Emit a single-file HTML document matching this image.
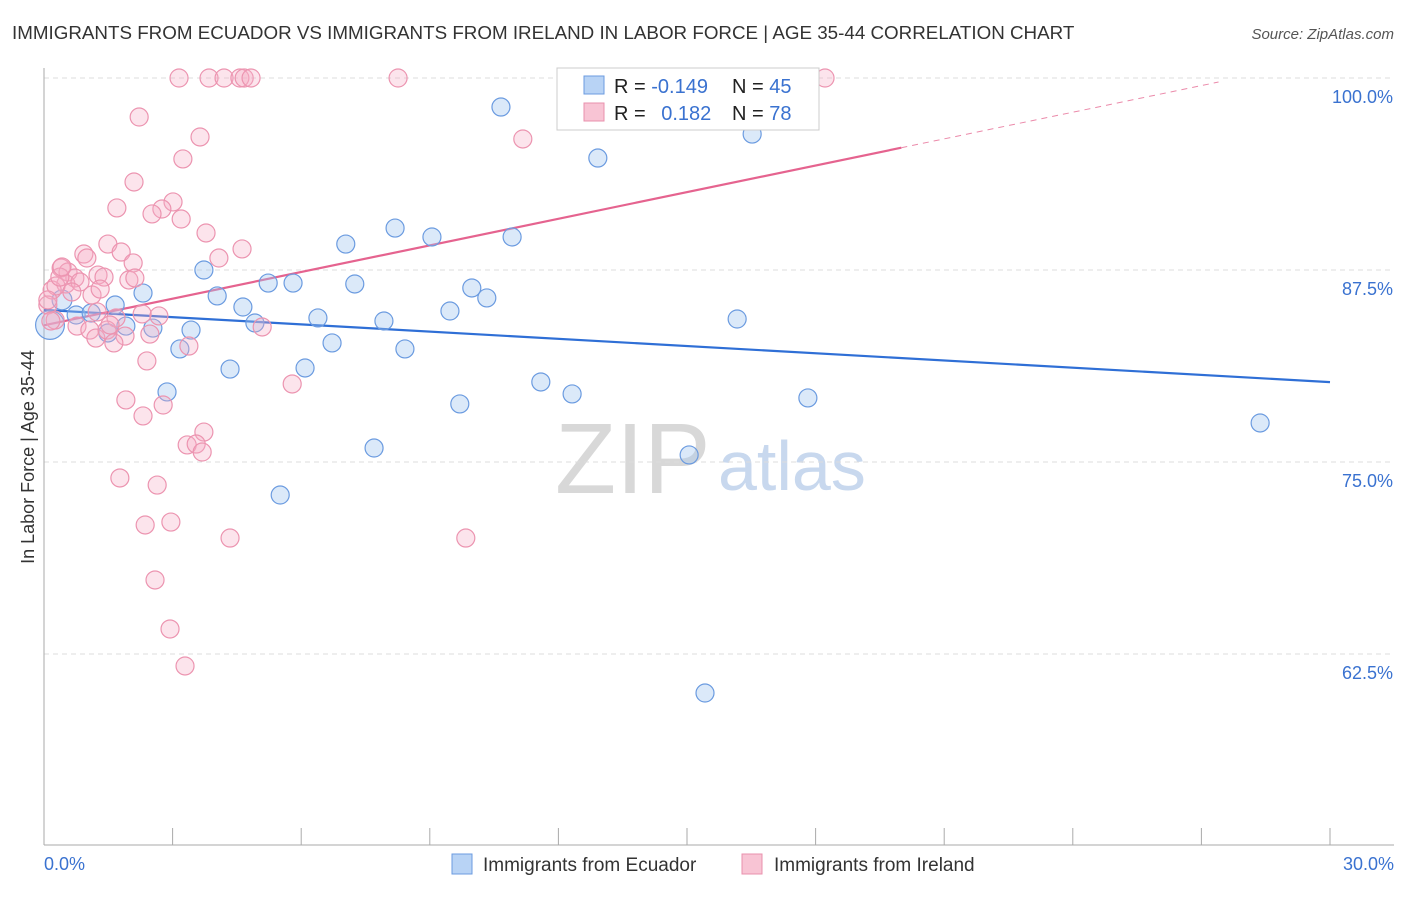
<!DOCTYPE html>
<html><head><meta charset="utf-8"><style>
body{margin:0;background:#fff;font-family:"Liberation Sans",sans-serif;}
svg text{font-family:"Liberation Sans",sans-serif;}
</style></head><body>
<svg id="chart" width="1406" height="892" xmlns="http://www.w3.org/2000/svg">
<text x="12" y="39" font-size="18.8" fill="#333">IMMIGRANTS FROM ECUADOR VS IMMIGRANTS FROM IRELAND IN LABOR FORCE | AGE 35-44 CORRELATION CHART</text>
<text x="1394" y="39" font-size="15" fill="#555" text-anchor="end" font-style="italic">Source: ZipAtlas.com</text>
<text transform="translate(34,457) rotate(-90)" font-size="18" fill="#333" text-anchor="middle">In Labor Force | Age 35-44</text>
<g>
<text x="555" y="493" font-size="100" fill="#d8d8d8" font-family="Liberation Serif,serif">ZIP</text>
<text x="718" y="490" font-size="70" fill="#c8d8ee">atlas</text>
</g>
<g id="grid"></g>
<g id="axes"></g>
<g id="trends"></g>
<g id="points"></g>
<g>
<rect x="557" y="68" width="262" height="62" fill="#fff" stroke="#ccc"/>
<rect x="584" y="76" width="20" height="18" fill="#b8d3f5" stroke="#6b9be0"/>
<rect x="584" y="103" width="20" height="18" fill="#f8c4d4" stroke="#e990ad"/>
<text x="614" y="93" font-size="20" fill="#222">R = <tspan fill="#3a72d0">-0.149</tspan></text>
<text x="732" y="93" font-size="20" fill="#222">N = <tspan fill="#3a72d0">45</tspan></text>
<text x="614" y="120" font-size="20" fill="#222">R = <tspan fill="#3a72d0" dx="10">0.182</tspan></text>
<text x="732" y="120" font-size="20" fill="#222">N = <tspan fill="#3a72d0">78</tspan></text>
</g>
<g>
<rect x="452" y="854" width="20" height="20" fill="#b8d3f5" stroke="#6b9be0"/>
<text x="483" y="871" font-size="19" fill="#333">Immigrants from Ecuador</text>
<rect x="742" y="854" width="20" height="20" fill="#f8c4d4" stroke="#e990ad"/>
<text x="774" y="871" font-size="19" fill="#333">Immigrants from Ireland</text>
</g>
</svg>
<script>
const yTicks=[100,87.5,75,62.5];
const yTickLabels=["100.0%","87.5%","75.0%","62.5%"];
const xTicks=[0,3,6,9,12,15,18,21,24,27,30];
const xEdgeLabels=["0.0%","30.0%"];
const ecuadorX=[10.66,12.92,16.52,8.19,7.04,9.05,10.92,3.73,5.23,5.81,7.25,9.98,10.33,4.04,2.31,1.66,4.64,9.47,6.39,7.93,4.92,16.17,1.91,2.54,3.43,1.49,0.75,1.10,6.72,3.17,8.42,6.09,4.34,11.59,12.32,2.87,9.70,17.82,7.70,15.05,28.37,5.51,15.42,0.14,0.42];
const ecuadorY=[98.11,94.79,96.35,90.23,89.19,89.65,89.65,87.5,86.65,86.65,86.59,86.33,85.68,85.81,86.0,85.22,85.09,84.83,84.38,84.18,84.05,84.31,83.85,83.72,83.59,83.40,84.57,84.70,82.75,82.36,82.36,81.12,81.05,80.21,79.43,79.56,78.78,79.17,75.91,75.46,77.54,72.85,59.96,83.92,85.55];
const ecuadorSize=[1,1,1,1,1,1,1,1,1,1,1,1,1,1,1,1,1,1,1,1,1,1,1,1,1,1,1,1,1,1,1,1,1,1,1,1,1,1,1,1,1,1,1,1.6,1.1];
const irelandX=[3.15,3.85,4.20,4.57,4.67,4.83,8.26,18.22,2.22,3.64,11.17,3.24,2.10,3.01,1.70,2.75,2.52,3.20,3.78,4.62,1.49,0.93,1.80,2.08,4.08,1.00,0.40,0.56,0.72,1.26,1.98,1.40,0.51,1.12,1.31,0.19,0.28,0.84,0.09,1.24,1.68,0.26,2.29,2.68,0.77,1.07,1.21,1.47,1.89,1.63,2.47,3.38,5.09,2.40,5.79,1.91,2.78,2.31,3.73,3.34,3.55,3.69,1.77,2.64,2.36,2.96,4.34,9.84,2.59,2.94,3.29,0.16,0.37,0.65,1.54,2.12,0.42,0.09];
const irelandY=[100,100,100,100,100,100,100,100,97.46,96.16,96.03,94.73,93.23,91.93,91.54,91.47,91.15,90.82,89.91,88.87,89.19,88.54,88.67,87.96,88.28,88.28,87.63,87.37,86.98,87.17,86.85,87.04,86.59,85.87,86.26,86.20,86.46,86.72,85.22,84.77,84.38,84.24,84.64,84.51,83.85,83.59,83.07,83.59,83.20,82.75,83.33,82.55,83.79,81.58,80.08,79.04,78.71,78.00,76.95,76.11,76.17,75.65,73.96,73.50,70.90,71.09,70.05,70.05,67.32,64.13,61.72,84.18,87.04,86.07,83.92,86.98,87.70,85.55];
const ecuadorTrend=[84.9,80.2];
const irelandTrend=[83.9,0.578];
const irelandSolidEnd=20.0, irelandDashEnd=27.4;

const NS="http://www.w3.org/2000/svg";
const X0=44,X1=1330,Y100=78,PXPER=15.36;
const xs=v=>X0+(v/30)*(X1-X0);
const ys=v=>Y100+(100-v)*PXPER;
function mk(tag,attrs,parent){const e=document.createElementNS(NS,tag);for(const k in attrs)e.setAttribute(k,attrs[k]);parent.appendChild(e);return e;}
const grid=document.getElementById('grid'),axes=document.getElementById('axes'),tr=document.getElementById('trends'),pts=document.getElementById('points');
yTicks.forEach((t,i)=>{
 const l=mk('line',{x1:X0,x2:1394,y1:ys(t),y2:ys(t),stroke:'#ddd','stroke-dasharray':'5,4'},grid);
 
 
 const tx=mk('text',{x:1393,y:ys(t)+25,'font-size':18,fill:'#3a72d0','text-anchor':'end'},grid);
 tx.textContent=yTickLabels[i];
 
 
});
const ya=mk('line',{x1:X0,x2:X0,y1:68,y2:845,stroke:'#aaa'},axes);


const xa=mk('line',{x1:X0,x2:1394,y1:845,y2:845,stroke:'#aaa'},axes);


xTicks.forEach(t=>{
 const l=mk('line',{x1:xs(t),x2:xs(t),y1:828,y2:845,stroke:'#aaa'},axes);
 
 
});
const xl0=mk('text',{x:44,y:870,'font-size':18,fill:'#3a72d0'},axes);xl0.textContent=xEdgeLabels[0];


const xl1=mk('text',{x:1394,y:870,'font-size':18,fill:'#3a72d0','text-anchor':'end'},axes);xl1.textContent=xEdgeLabels[1];



ecuadorX.forEach((v,i)=>{
 const c=mk('circle',{cx:xs(v),cy:ys(ecuadorY[i]),r:9*ecuadorSize[i],fill:'rgba(160,196,240,0.38)',stroke:'#6b9be0','stroke-width':1.2},pts);
 
 
});
irelandX.forEach((v,i)=>{
 const c=mk('circle',{cx:xs(v),cy:ys(irelandY[i]),r:9,fill:'rgba(246,172,196,0.33)',stroke:'#ec94b0','stroke-width':1.2},pts);
 
 
});
const bt=mk('line',{x1:xs(0),y1:ys(ecuadorTrend[0]),x2:xs(30),y2:ys(ecuadorTrend[1]),stroke:'#2f6fd6','stroke-width':2.2},tr);


const pf=x=>irelandTrend[0]+irelandTrend[1]*x;
const pt=mk('line',{x1:xs(0),y1:ys(pf(0)),x2:xs(irelandSolidEnd),y2:ys(pf(irelandSolidEnd)),stroke:'#e5638f','stroke-width':2.2},tr);


const pd=mk('line',{x1:xs(irelandSolidEnd),y1:ys(pf(irelandSolidEnd)),x2:xs(irelandDashEnd),y2:ys(pf(irelandDashEnd)),stroke:'#eb8aaa','stroke-width':1,'stroke-dasharray':'6,5'},tr);


</script>
</body></html>
